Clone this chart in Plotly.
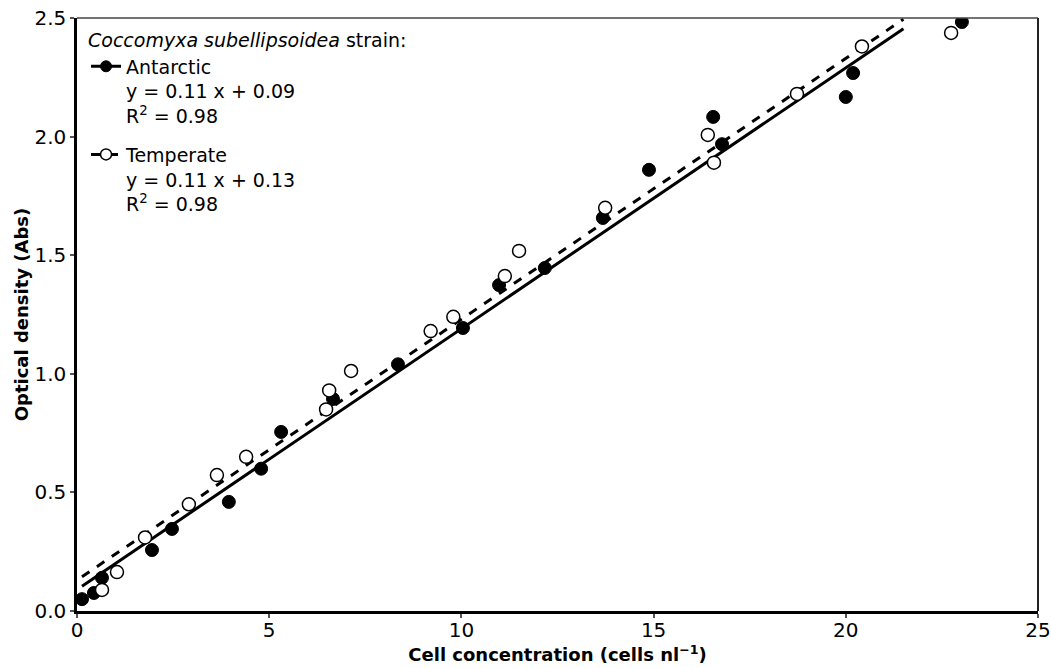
import plotly.graph_objects as go

# ---- data ----
ant_x = [0.13, 0.44, 0.65, 1.95, 2.47, 3.95, 4.79, 5.31, 6.66, 8.35, 10.04, 10.98,
         12.17, 13.68, 14.88, 16.55, 16.78, 20.0, 20.19, 23.02]
ant_y = [0.05, 0.076, 0.14, 0.257, 0.346, 0.46, 0.60, 0.755, 0.894, 1.04, 1.193, 1.374,
         1.446, 1.657, 1.86, 2.083, 1.968, 2.167, 2.268, 2.483]

tem_x = [0.65, 1.04, 1.77, 2.91, 3.64, 4.40, 6.48, 6.56, 7.13, 9.2, 9.79, 11.13,
         11.5, 13.74, 16.41, 16.57, 18.73, 20.42, 22.74]
tem_y = [0.089, 0.164, 0.31, 0.45, 0.573, 0.65, 0.85, 0.93, 1.012, 1.18, 1.24, 1.412,
         1.518, 1.70, 2.007, 1.89, 2.18, 2.38, 2.437]

fit_slope = {"Antarctic": 0.11, "Temperate": 0.11}
fit_intercept = {"Antarctic": 0.09, "Temperate": 0.13}
fit_range = [0.13, 21.5]
r2 = {"Antarctic": 0.98, "Temperate": 0.98}

x_ticks = [0, 5, 10, 15, 20, 25]
y_ticks = [0.0, 0.5, 1.0, 1.5, 2.0, 2.5]

FONT = "DejaVu Sans, Liberation Sans, Arial, sans-serif"

fig = go.Figure()

def fit_line(name):
    xs = fit_range
    ys = [fit_slope[name] * v + fit_intercept[name] for v in xs]
    return xs, ys

# fit lines
for name, dash in [("Antarctic", "solid"), ("Temperate", "dash")]:
    xs, ys = fit_line(name)
    fig.add_trace(go.Scatter(x=xs, y=ys, mode="lines", showlegend=False,
                             line=dict(color="black", width=3, dash=dash)))

# data points
fig.add_trace(go.Scatter(x=ant_x, y=ant_y, mode="markers", showlegend=False,
                         marker=dict(symbol="circle", size=13, color="black",
                                     line=dict(color="black", width=1))))
fig.add_trace(go.Scatter(x=tem_x, y=tem_y, mode="markers", showlegend=False,
                         marker=dict(symbol="circle", size=13, color="white",
                                     line=dict(color="black", width=1.5))))

# legend entries
def label(name):
    s, b = fit_slope[name], fit_intercept[name]
    return f"{name}<br>y = {s:.2f} x + {b:.2f}<br>R<sup>2</sup> = {r2[name]:.2f}"

fig.add_trace(go.Scatter(x=[None], y=[None], mode="lines+markers", name=label("Antarctic"),
                         legendgroup="ant",
                         line=dict(color="black", width=3, dash="solid"),
                         marker=dict(symbol="circle", size=11, color="black",
                                     line=dict(color="black", width=1))))
fig.add_trace(go.Scatter(x=[None], y=[None], mode="lines+markers", name=label("Temperate"),
                         legendgroup="tem",
                         line=dict(color="black", width=3, dash="dash"),
                         marker=dict(symbol="circle", size=11, color="white",
                                     line=dict(color="black", width=1.5))))

fig.update_layout(
    width=1051, height=668,
    margin=dict(l=77, r=13, t=18, b=57, autoexpand=False),
    paper_bgcolor="white", plot_bgcolor="white",
    font=dict(family=FONT, color="black", size=19),
    legend=dict(
        x=0.0094, y=0.992, xanchor="left", yanchor="top",
        bgcolor="rgba(0,0,0,0)", borderwidth=0,
        font=dict(size=19), valign="top", itemwidth=30,
        title=dict(text="<i>Coccomyxa subellipsoidea</i> strain:", font=dict(size=19)),
        tracegroupgap=11,
    ),
    xaxis=dict(
        range=[0, 25], tickvals=x_ticks, ticktext=[str(v) for v in x_ticks],
        showgrid=False, zeroline=False, automargin=False,
        showline=True, linecolor="black", linewidth=2.5, mirror=False,
        ticks="outside", ticklen=4, tickwidth=1.5, tickcolor="#555",
        tickfont=dict(size=20), ticklabelstandoff=-5,
        title=dict(text="<b>Cell concentration (cells nl<sup>−1</sup>)</b>",
                   font=dict(size=18), standoff=6),
    ),
    yaxis=dict(
        range=[0, 2.5], tickvals=y_ticks, ticktext=[f"{v:.1f}" for v in y_ticks],
        showgrid=False, zeroline=False, automargin=False,
        showline=True, linecolor="black", linewidth=2.5, mirror=False,
        ticks="outside", ticklen=4, tickwidth=1.5, tickcolor="#555",
        tickfont=dict(size=20),
        title=dict(text="<b>Optical density (Abs)</b>", font=dict(size=18), standoff=2),
    ),
    shapes=[
        dict(type="line", xref="paper", yref="paper", x0=0, x1=1, y0=1, y1=1,
             line=dict(color="#444", width=1.5)),
        dict(type="line", xref="paper", yref="paper", x0=1, x1=1, y0=0, y1=1,
             line=dict(color="#222", width=2)),
    ],
)

fig.write_html("out.html", config={"displayModeBar": False},
               post_script="document.body.style.margin='0';document.body.style.overflow='hidden';")
